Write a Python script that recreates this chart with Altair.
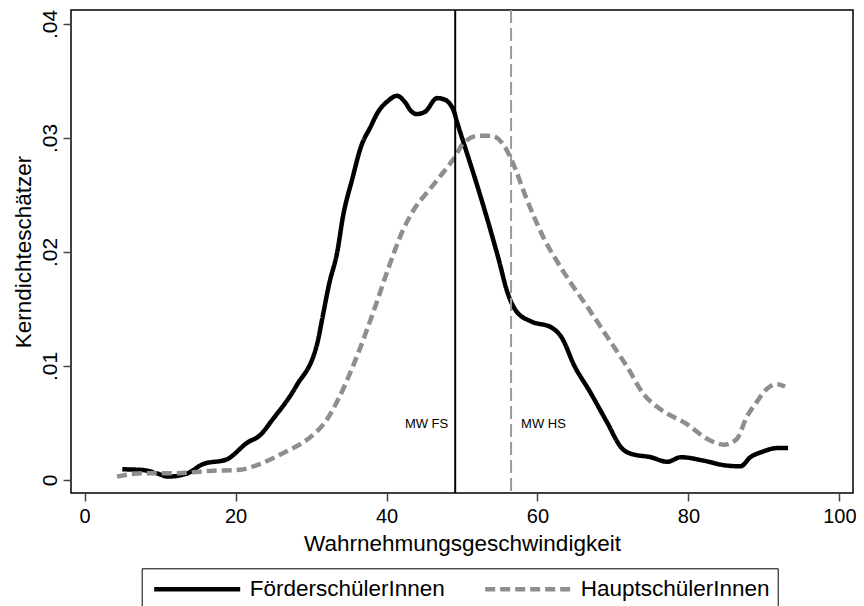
import altair as alt
import pandas as pd

# ---- data ----
series = ["FörderschülerInnen", "HauptschülerInnen"]

fs_x = [5.0, 7.6, 9.5, 11.1, 13.5, 15.7, 18.8, 21.6, 23.2, 24.9, 28.0, 30.9, 31.5,
        32.4, 33.5, 34.2, 35.5, 36.6, 37.9, 38.8, 40.1, 41.4, 42.5, 43.2, 44.0,
        45.1, 46.7, 47.6, 48.9, 49.3, 50.4, 51.7, 53.3, 54.8, 56.1, 57.2, 59.2,
        61.8, 63.2, 64.9, 66.9, 69.1, 71.3, 72.4, 75.0, 77.2, 79.0, 82.0, 84.7,
        86.9, 88.2, 89.9, 91.7, 93.2]
fs_y = [0.00094, 0.00088, 0.0006, 0.0003, 0.00055, 0.0014, 0.0018, 0.0033, 0.0039,
        0.0053, 0.0082, 0.0122, 0.0142, 0.0172, 0.0201, 0.0230, 0.0265, 0.0292,
        0.0310, 0.0322, 0.0332, 0.0337, 0.0331, 0.0324, 0.0321, 0.0323, 0.0335,
        0.0334, 0.0324, 0.0315, 0.0292, 0.0265, 0.0230, 0.0195, 0.0163, 0.0148,
        0.0139, 0.0134, 0.0125, 0.0100, 0.0078, 0.0052, 0.0027, 0.0023, 0.0020,
        0.0016, 0.0020, 0.0017, 0.0013, 0.0012, 0.0020, 0.0025, 0.0028, 0.0028]

hs_x = [4.3, 7.8, 12.2, 16.6, 20.6, 23.2, 26.7, 29.8, 32.0, 33.7, 35.5, 37.2, 38.6,
        40.1, 42.1, 43.8, 45.6, 47.3, 49.3, 50.0, 52.2, 53.9, 55.7, 57.0, 58.3,
        59.6, 61.0, 62.3, 64.5, 66.7, 69.3, 71.9, 74.1, 76.3, 79.8, 82.5, 84.7,
        86.4, 87.7, 89.1, 90.4, 91.7, 92.8]
hs_y = [0.0003, 0.0006, 0.0006, 0.0008, 0.0009, 0.0014, 0.0025, 0.0037, 0.0052,
        0.0072, 0.0099, 0.0128, 0.0154, 0.0183, 0.0218, 0.0239, 0.0254, 0.0268,
        0.0286, 0.0294, 0.0302, 0.0302, 0.0292, 0.0274, 0.0251, 0.0230, 0.0210,
        0.0195, 0.0172, 0.0151, 0.0125, 0.0099, 0.0075, 0.0062, 0.0049, 0.0036,
        0.0031, 0.0036, 0.0055, 0.0069, 0.0080, 0.0084, 0.0082]

mean_x = [49.1, 56.5]
mean_labels = ["MW FS", "MW HS"]
mean_label_y = [0.0049, 0.0049]

x_ticks = [0, 20, 40, 60, 80, 100]
y_ticks = [0, 0.01, 0.02, 0.03, 0.04]

x_title = "Wahrnehmungsgeschwindigkeit"
y_title = "Kerndichteschätzer"

# ---- tables ----
lines_df = pd.concat([
    pd.DataFrame({"x": fs_x, "y": fs_y, "series": series[0]}),
    pd.DataFrame({"x": hs_x, "y": hs_y, "series": series[1]}),
], ignore_index=True)

fs_mean = pd.DataFrame({"x": [mean_x[0]], "y": [mean_label_y[0]], "label": [mean_labels[0]]})
hs_mean = pd.DataFrame({"x": [mean_x[1]], "y": [mean_label_y[1]], "label": [mean_labels[1]]})

FONT = "Liberation Sans"

xscale = alt.Scale(domain=[-1.8, 101.8], nice=False, zero=False)
yscale = alt.Scale(domain=[-0.00114, 0.04123], nice=False, zero=False)

xaxis = alt.Axis(values=x_ticks, title=x_title, grid=False, domain=False,
                 tickSize=8, tickColor="#444444", tickWidth=1.5,
                 labelFontSize=20, labelFont=FONT, labelColor="black", labelPadding=5,
                 titleFontSize=22.5, titleFont=FONT, titleFontWeight="normal",
                 titleColor="black", titlePadding=6)
yaxis = alt.Axis(values=y_ticks, title=y_title, grid=False, domain=False,
                 tickSize=8, tickColor="#444444", tickWidth=1.5,
                 labelAngle=270, labelAlign="center", labelBaseline="bottom",
                 labelFontSize=21, labelFont=FONT, labelColor="black", labelPadding=3,
                 labelExpr="datum.value == 0 ? '0' : replace(format(datum.value, '.2f'), '0.', '.')",
                 titleFontSize=22.5, titleFont=FONT, titleFontWeight="normal",
                 titleColor="black", titlePadding=4)

legend = alt.Legend(orient="none", legendX=70.7, legendY=558.3, direction="horizontal",
                    symbolType="stroke", symbolSize=7400, symbolStrokeWidth=4.5,
                    clipHeight=26, padding=8, strokeColor="black", fillColor="white",
                    labelFontSize=22.5, labelFont=FONT, labelColor="black", labelLimit=400,
                    labelOffset=7, columnPadding=35, symbolOffset=2)

curves = alt.Chart(lines_df).mark_line(strokeWidth=4.5, strokeCap="butt", strokeJoin="round",
                                       interpolate="monotone").encode(
    x=alt.X("x:Q", scale=xscale, axis=xaxis),
    y=alt.Y("y:Q", scale=yscale, axis=yaxis),
    color=alt.Color("series:N", scale=alt.Scale(domain=series, range=["black", "#8e8e8e"]),
                    legend=legend, title=None),
    strokeDash=alt.StrokeDash("series:N", scale=alt.Scale(domain=series, range=[[1, 0], [10, 5]]),
                              legend=legend, title=None),
)

fs_rule = alt.Chart(fs_mean).mark_rule(color="black", strokeWidth=2).encode(x=alt.X("x:Q", scale=xscale))
hs_rule = alt.Chart(hs_mean).mark_rule(color="#9a9a9a", strokeWidth=2, strokeDash=[13, 5]).encode(
    x=alt.X("x:Q", scale=xscale))

fs_text = alt.Chart(fs_mean).mark_text(align="right", baseline="middle", dx=-7, fontSize=13,
                                        font=FONT, color="black").encode(
    x=alt.X("x:Q", scale=xscale), y=alt.Y("y:Q", scale=yscale), text="label:N")
hs_text = alt.Chart(hs_mean).mark_text(align="left", baseline="middle", dx=10, fontSize=13,
                                        font=FONT, color="black").encode(
    x=alt.X("x:Q", scale=xscale), y=alt.Y("y:Q", scale=yscale), text="label:N")

chart = alt.layer(curves, fs_rule, hs_rule, fs_text, hs_text).properties(
    width=782, height=483,
    autosize=alt.AutoSizeParams(type="none"),
    padding={"left": 63, "top": 2, "right": 3, "bottom": 113},
    background="white",
).configure_view(stroke="black", strokeWidth=1.5)

chart.save("out.html", embed_options={"renderer": "svg", "actions": False})
